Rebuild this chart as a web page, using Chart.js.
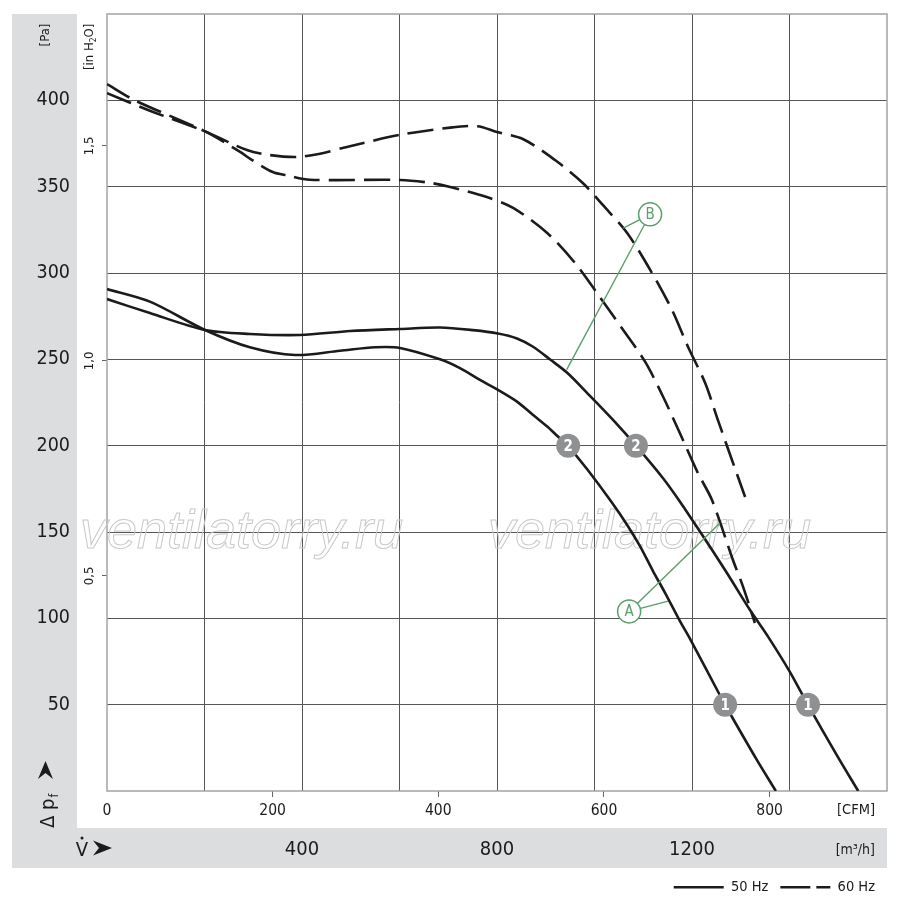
<!DOCTYPE html>
<html><head><meta charset="utf-8">
<script src="https://cdn.jsdelivr.net/npm/chart.js@4.4.1/dist/chart.umd.min.js"></script>
<style>html,body{margin:0;padding:0;background:#fff;overflow:hidden}</style>
</head><body>
<canvas id="c" width="900" height="907" style="display:block;width:900px;height:907px"></canvas>
<script>
// ---- data (flow in m³/h, pressure in Pa) ----
const s50aX = [0, 88, 201, 293, 386, 478, 550, 601, 683, 724, 765, 802, 841, 874, 903, 925, 946, 985, 1032, 1067, 1093, 1120, 1145, 1175, 1196, 1257, 1268, 1333, 1372];
const s50aY = [290.7, 283.4, 267, 257, 252.5, 255, 257, 256.6, 250, 244.9, 238.1, 232.3, 225.5, 217.8, 211.1, 205.3, 199.8, 186.3, 168.5, 154.1, 141.9, 127.4, 114.6, 98.5, 88.1, 55.6, 49.8, 18, 0];
const s50bX = [0, 88, 201, 293, 396, 499, 601, 683, 751, 802, 841, 874, 909, 944, 987, 1038, 1085, 1141, 1175, 1216, 1272, 1319, 1354, 1401, 1438, 1497, 1541];
const s50bY = [284.9, 276.8, 267, 264.7, 264.1, 266.4, 267.6, 268.4, 266.9, 265, 262.1, 257.3, 249.9, 242.2, 229.9, 214.9, 200, 181, 167.7, 150.4, 126.1, 104.8, 90.3, 68.9, 49.8, 20.8, 0];
const d60aX = [0, 88, 201, 287, 334, 390, 437, 492, 601, 704, 760, 800, 853, 919, 976, 1017, 1067, 1118, 1159, 1192, 1227, 1253, 1282, 1309];
const d60aY = [404.2, 394, 382, 371.2, 368.3, 367.2, 369.1, 373, 380, 384.2, 385, 381.6, 377.6, 365.4, 352.1, 339.4, 323.2, 300, 278.6, 257.1, 236.3, 214.9, 191.7, 170.3];
const d60bX = [0, 57, 201, 273, 297, 340, 370, 416, 601, 663, 704, 779, 833, 903, 960, 1011, 1056, 1104, 1141, 1175, 1212, 1241, 1284, 1305, 1329];
const d60bY = [409.4, 400, 382, 370.1, 365.5, 358.5, 356.5, 354, 353.9, 352.2, 349.8, 344, 337.7, 323.2, 305.8, 286.1, 268.1, 248.5, 228.2, 207.3, 184.2, 168.5, 133.8, 118.1, 97.3];

const markerX = [946, 1085, 1268, 1438];
const markerY = [200, 200, 50, 50];
const markerText = ['2', '2', '1', '1'];

const letterX = [1071, 1114];
const letterY = [104, 334];
const letterText = ['A', 'B'];
const leaderFrom = [0, 0, 1, 1];
const leaderToX = [1257, 1151, 943, 1059];
const leaderToY = [155, 110, 244, 326];

const flowTicksM3h = [400, 800, 1200];
const cfmTicks = [0, 200, 400, 600, 800];
const inH2OTicks = [0.5, 1.0, 1.5];
const legendTexts = ['50 Hz', '60 Hz'];

const FLOW_MAX = 1600, PA_MAX = 450;
const PA_PER_INH2O = 249.089, M3H_PER_CFM = 1.69901;

// ---- style ----
const NARROW = '"DejaVu Sans Condensed", "Liberation Sans Narrow", "DejaVu Sans", sans-serif';
const INK = '#1b1b1b';
const GREEN = '#5b9e6c';
const GRID = '#555555';
const BAND = '#dcdddf';

const pts = (xs, ys) => xs.map((x, i) => ({x, y: ys[i]}));
const curveDs = (label, xs, ys, dash) => ({
  label, data: pts(xs, ys), borderColor: INK, borderWidth: 2.6, borderDash: dash,
  borderCapStyle: 'butt', pointRadius: 0, tension: 0.3, fill: false, order: 3
});

const datasets = [
  curveDs('50 Hz (1)', s50aX, s50aY, []),
  curveDs('50 Hz (2)', s50bX, s50bY, []),
  curveDs('60 Hz (1)', d60aX, d60aY, [26, 9]),
  curveDs('60 Hz (2)', d60bX, d60bY, [26, 9]),
];
leaderToX.forEach((tx, i) => {
  const f = leaderFrom[i];
  datasets.push({
    label: 'leader', data: [{x: letterX[f], y: letterY[f]}, {x: tx, y: leaderToY[i]}],
    borderColor: GREEN, borderWidth: 1.4, pointRadius: 0, fill: false, order: 2
  });
});
const MARKER_DS = datasets.length;
datasets.push({
  label: 'markers', data: pts(markerX, markerY), showLine: false,
  pointRadius: 12, pointBackgroundColor: '#8f9092', pointBorderWidth: 0, order: 1
});
const LETTER_DS = datasets.length;
datasets.push({
  label: 'letters', data: pts(letterX, letterY), showLine: false,
  pointRadius: 11.5, pointBackgroundColor: '#ffffff', pointBorderColor: GREEN, pointBorderWidth: 1.5, order: 1
});

const noPad = s => { s.paddingTop = 0; s.paddingBottom = 0; s.paddingLeft = 0; s.paddingRight = 0; };

const decor = {
  id: 'decor',
  beforeDraw(chart) {
    const {ctx, chartArea: a} = chart;
    const xs = chart.scales.x, ys = chart.scales.y;
    ctx.save();
    ctx.fillStyle = '#ffffff';
    ctx.fillRect(0, 0, chart.width, chart.height);
    ctx.fillStyle = BAND;
    ctx.fillRect(ys.left, a.top, ys.width, xs.bottom - a.top);
    ctx.fillRect(ys.left, xs.top, a.right - ys.left, xs.height);
    ctx.restore();
  },
  beforeDatasetsDraw(chart) {
    const {ctx, chartArea: a} = chart;
    ctx.save();
    ctx.strokeStyle = '#a3a3a3';
    ctx.lineWidth = 1.5;
    ctx.strokeRect(a.left, a.top, a.width, a.height);
    ctx.font = 'italic 54px "Liberation Sans", Arial, sans-serif';
    ctx.strokeStyle = '#c8c8c8';
    ctx.lineWidth = 1;
    ctx.textBaseline = 'alphabetic';
    ctx.textAlign = 'left';
    ctx.strokeText('ventilatorry.ru', a.left - 27, 548);
    ctx.strokeText('ventilatorry.ru', a.left + 381, 548);
    ctx.restore();
  },
  afterDatasetsDraw(chart) {
    const {ctx} = chart;
    ctx.save();
    ctx.textAlign = 'center';
    ctx.textBaseline = 'middle';
    ctx.font = 'bold 15px ' + NARROW;
    ctx.fillStyle = '#ffffff';
    chart.getDatasetMeta(MARKER_DS).data.forEach((el, i) => ctx.fillText(markerText[i], el.x, el.y + 1));
    ctx.font = '15px ' + NARROW;
    ctx.fillStyle = GREEN;
    chart.getDatasetMeta(LETTER_DS).data.forEach((el, i) => ctx.fillText(letterText[i], el.x, el.y + 1));
    ctx.restore();
  },
  afterDraw(chart) {
    const {ctx, chartArea: a} = chart;
    const xs = chart.scales.x, ys = chart.scales.y, yi = chart.scales.yIn;
    ctx.save();
    ctx.fillStyle = INK;
    const pcx = ys.left + ys.width / 2 + 1;
    // [Pa]
    ctx.save();
    ctx.translate(pcx, a.top + 21);
    ctx.rotate(-Math.PI / 2);
    ctx.font = '13px ' + NARROW;
    ctx.textAlign = 'center'; ctx.textBaseline = 'middle';
    ctx.fillText('[Pa]', 0, 0);
    ctx.restore();
    // [in H2O]
    ctx.save();
    ctx.translate(yi.left + 13, a.top + 56);
    ctx.rotate(-Math.PI / 2);
    ctx.textBaseline = 'middle'; ctx.textAlign = 'left';
    ctx.font = '13px ' + NARROW;
    const w = ctx.measureText('[in H').width;
    ctx.fillText('[in H', 0, 0);
    ctx.font = '8.5px ' + NARROW;
    ctx.fillText('2', w, 4);
    const w2 = ctx.measureText('2').width;
    ctx.font = '13px ' + NARROW;
    ctx.fillText('O]', w + w2, 0);
    ctx.restore();
    // Δ p_f
    ctx.save();
    ctx.translate(pcx + 8, xs.top);
    ctx.rotate(-Math.PI / 2);
    ctx.textBaseline = 'alphabetic'; ctx.textAlign = 'left';
    ctx.font = '20px ' + NARROW;
    ctx.fillText('\u0394 p', 0, 0);
    const wd = ctx.measureText('\u0394 p').width;
    ctx.font = '12px ' + NARROW;
    ctx.fillText('f', wd + 1, 4);
    ctx.restore();
    // up arrowhead
    const ax = pcx, ay = xs.top - 67;
    ctx.beginPath();
    ctx.moveTo(ax, ay);
    ctx.lineTo(ax + 7.5, ay + 18);
    ctx.lineTo(ax, ay + 12);
    ctx.lineTo(ax - 7.5, ay + 18);
    ctx.closePath();
    ctx.fill();
    // V-dot with right arrowhead
    const vy = xs.top + 28;
    ctx.font = '20px ' + NARROW;
    ctx.textAlign = 'center'; ctx.textBaseline = 'alphabetic';
    ctx.fillText('V', ys.left + 70, vy);
    ctx.beginPath();
    ctx.arc(ys.left + 70, vy - 18, 1.5, 0, Math.PI * 2);
    ctx.fill();
    const rx = ys.left + 81, ry = xs.top + 20;
    ctx.beginPath();
    ctx.moveTo(rx + 19, ry);
    ctx.lineTo(rx, ry - 7.5);
    ctx.lineTo(rx + 6, ry);
    ctx.lineTo(rx, ry + 7.5);
    ctx.closePath();
    ctx.fill();
    // unit labels
    ctx.textAlign = 'right'; ctx.textBaseline = 'middle';
    ctx.font = '14.5px ' + NARROW;
    ctx.fillText('[CFM]', a.right - 12, a.bottom + 19);
    ctx.font = '14px ' + NARROW;
    ctx.fillText('[m\u00B3/h]', a.right - 12, xs.top + 22);
    ctx.restore();
  }
};

new Chart(document.getElementById('c'), {
  type: 'line',
  data: {datasets},
  plugins: [decor],
  options: {
    responsive: false,
    animation: false,
    devicePixelRatio: 1,
    events: [],
    layout: {padding: {left: 12, right: 13, top: 14, bottom: 2.5}},
    plugins: {
      tooltip: {enabled: false},
      legend: {
        display: true, position: 'bottom', align: 'end',
        labels: {
          usePointStyle: true, pointStyleWidth: 50, padding: 12, color: INK,
          font: {size: 14.5, family: NARROW},
          generateLabels: () => legendTexts.map((t, i) => ({
            text: t, pointStyle: 'line', lineWidth: 2.6, strokeStyle: INK, fillStyle: INK,
            lineDash: i === 0 ? [] : [30, 6], lineCap: 'butt', fontColor: INK, hidden: false, datasetIndex: i * 2
          }))
        }
      }
    },
    scales: {
      x: {
        type: 'linear', position: 'bottom', weight: 1, min: 0, max: FLOW_MAX,
        afterBuildTicks: s => { s.ticks = s.ticks.filter(t => t.value > 0 && t.value < FLOW_MAX); },
        afterFit: s => { s.height = 40; noPad(s); },
        ticks: {stepSize: 200, autoSkip: false, maxRotation: 0, padding: 9.5, color: INK,
          font: {size: 20, family: NARROW},
          callback: v => flowTicksM3h.includes(v) ? String(v) : ''},
        grid: {color: GRID, lineWidth: 1, drawTicks: false},
        border: {display: false}
      },
      xCfm: {
        type: 'linear', position: 'bottom', weight: 0, min: 0, max: FLOW_MAX / M3H_PER_CFM,
        afterBuildTicks: s => { s.ticks = cfmTicks.map(v => ({value: v})); },
        afterFit: s => { s.height = 37; noPad(s); },
        ticks: {autoSkip: false, maxRotation: 0, padding: 5, color: INK,
          font: {size: 15.5, family: NARROW}, callback: v => String(v)},
        grid: {drawOnChartArea: false, drawTicks: true, tickLength: 6, lineWidth: 1,
          color: GRID, tickColor: c => (c.tick && c.tick.value === 0) ? 'rgba(0,0,0,0)' : '#666'},
        border: {display: false}
      },
      y: {
        type: 'linear', position: 'left', weight: 1, min: 0, max: PA_MAX,
        afterBuildTicks: s => { s.ticks = s.ticks.filter(t => t.value > 0 && t.value < PA_MAX); },
        afterFit: s => { s.width = 65; noPad(s); },
        ticks: {stepSize: 50, padding: 7, crossAlign: 'near', color: INK, font: {size: 19.5, family: NARROW}},
        grid: {color: GRID, lineWidth: 1, drawTicks: false},
        border: {display: false}
      },
      yIn: {
        type: 'linear', position: 'left', weight: 0, min: 0, max: PA_MAX / PA_PER_INH2O,
        afterBuildTicks: s => { s.ticks = inH2OTicks.map(v => ({value: v})); },
        afterFit: s => { s.width = 30; noPad(s); },
        ticks: {minRotation: 90, maxRotation: 90, crossAlign: 'center', padding: 3, color: INK,
          font: {size: 13, family: NARROW},
          callback: v => v.toFixed(1).replace('.', ',')},
        grid: {drawOnChartArea: false, drawTicks: true, tickLength: 5, color: '#666', lineWidth: 1},
        border: {display: false}
      }
    }
  }
});
</script>
</body></html>
